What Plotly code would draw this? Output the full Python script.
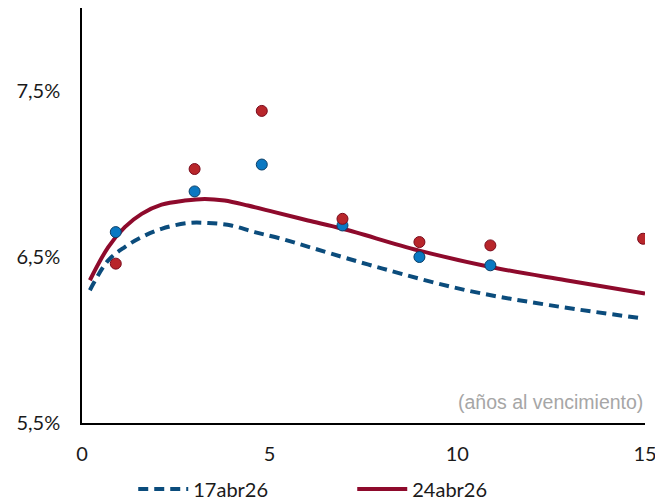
import plotly.graph_objects as go

# curvas estimadas (años, %)
curva_x_17 = [0.21, 0.70, 1.14, 1.59, 2.12, 2.83, 3.36, 3.98, 4.60, 5.31, 6.20, 8.01, 10.23, 12.45, 14.93]
curva_y_17 = [6.30, 6.48, 6.56, 6.62, 6.67, 6.705, 6.705, 6.69, 6.65, 6.61, 6.55, 6.43, 6.30, 6.21, 6.13]

curva_x_24 = [0.21, 0.70, 1.14, 1.59, 2.12, 2.74, 3.27, 3.80, 4.42, 5.13, 6.02, 6.95, 8.96, 10.88, 12.89, 15.0]
curva_y_24 = [6.36, 6.56, 6.68, 6.76, 6.815, 6.84, 6.85, 6.84, 6.81, 6.77, 6.72, 6.67, 6.54, 6.44, 6.36, 6.28]

# bonos observados
bonos_x_17 = [0.9, 3.0, 4.79, 6.94, 8.99, 10.88]
bonos_y_17 = [6.65, 6.895, 7.057, 6.69, 6.50, 6.45]

bonos_x_24 = [0.9, 3.0, 4.79, 6.94, 8.99, 10.88, 14.95]
bonos_y_24 = [6.46, 7.03, 7.38, 6.73, 6.59, 6.57, 6.61]

ticks_y = [5.5, 6.5, 7.5]
ticks_y_txt = ["5,5%", "6,5%", "7,5%"]
ticks_x = [0, 5, 10, 15]

azul_linea = "#0B4C7C"
azul_punto = "#0A78C2"
rojo_linea = "#8E0A2C"
rojo_punto = "#B8262B"

fig = go.Figure()

fig.add_trace(go.Scatter(x=curva_x_17, y=curva_y_17, mode="lines", name="17abr26",
                         line=dict(color=azul_linea, width=4, dash="10px,6px", shape="spline")))
fig.add_trace(go.Scatter(x=curva_x_24, y=curva_y_24, mode="lines", name="24abr26",
                         line=dict(color=rojo_linea, width=4, shape="spline")))
fig.add_trace(go.Scatter(x=bonos_x_17, y=bonos_y_17, mode="markers", showlegend=False,
                         marker=dict(color=azul_punto, size=11,
                                     line=dict(color="#0B3E66", width=1))))
fig.add_trace(go.Scatter(x=bonos_x_24, y=bonos_y_24, mode="markers", showlegend=False,
                         marker=dict(color=rojo_punto, size=11,
                                     line=dict(color="#7A0A1C", width=1))))

fig.add_annotation(text="(años al vencimiento)", x=1, y=0.02, xref="paper", yref="paper",
                   xanchor="right", yanchor="bottom", showarrow=False,
                   font=dict(size=19.5, color="#A6A6A6", family="Liberation Sans, Arial, sans-serif"))

fig.update_xaxes(range=[0, 15], tickvals=ticks_x, showgrid=False, zeroline=False,
                 showline=True, linecolor="black", linewidth=1.5, ticks="",
                 automargin=False, ticklabelstandoff=12,
                 tickfont=dict(size=20, color="#1A1A1A"))
fig.update_yaxes(range=[5.5, 8.0], tickvals=ticks_y, ticktext=ticks_y_txt,
                 showgrid=False, zeroline=False, automargin=False,
                 showline=True, linecolor="black", linewidth=1.5, ticks="",
                 ticklabelstandoff=16,
                 tickfont=dict(size=20, color="#1A1A1A"))

# la página añade 8px de margen al body
fig.update_layout(
    width=655, height=496,
    font=dict(family="Lato, Liberation Sans, sans-serif"),
    plot_bgcolor="white", paper_bgcolor="white",
    margin=dict(l=74, r=18, t=0, b=81),
    legend=dict(orientation="h", x=0.48, xanchor="center", yref="container",
                y=0.03, yanchor="middle",
                font=dict(size=20, color="#1A1A1A"), entrywidth=154, itemwidth=50),
)

fig.write_html("out.html")
